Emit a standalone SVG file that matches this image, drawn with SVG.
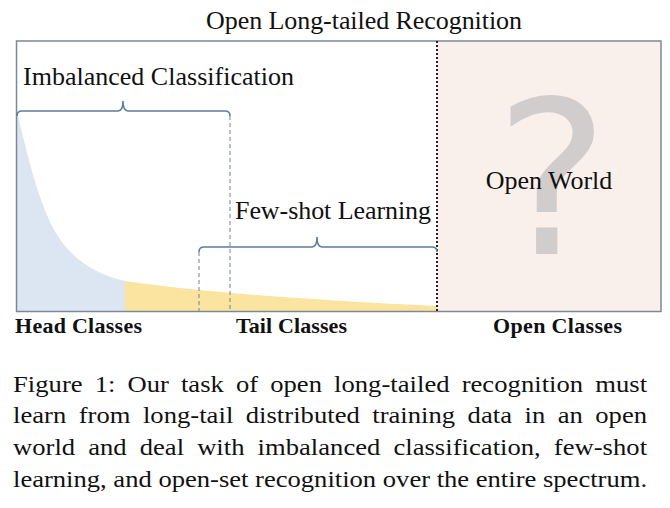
<svg xmlns="http://www.w3.org/2000/svg" width="670" height="508" viewBox="0 0 670 508">
<style>
.t{font-family:"Liberation Serif","Times New Roman",serif;fill:#111}
.lbl{font-size:26px}
.b{font-size:22px;font-weight:bold}
.cap{font-size:23px}
.brace{fill:none;stroke:#5E7D9A;stroke-width:1.6}
.dash{fill:none;stroke:#6F8297;stroke-width:1;stroke-dasharray:4,3}
</style>
<rect x="0" y="0" width="670" height="508" fill="#ffffff"/>
<text class="t lbl" x="364" y="29" text-anchor="middle" textLength="316">Open Long-tailed Recognition</text>
<g id="open-world">
<rect x="437" y="41" width="224" height="270" fill="#FAF0EB"/>
<text x="552" y="254" text-anchor="middle" font-family="DejaVu Sans,sans-serif" font-size="214" fill="#D0CDCC">?</text>
<text class="t lbl" x="549" y="189" text-anchor="middle">Open World</text>
</g>
<g id="distribution">
<path d="M17,112 C24,140 34,185 47,215 C60,248 85,272 125,281 L125,311 L17,311 Z" fill="#DCE6F2"/>
<path d="M125,281 C200,292 320,301 437,306 L437,311 L125,311 Z" fill="#FBE4A0"/>
</g>
<rect id="frame" x="16.5" y="41" width="644.5" height="270.5" fill="none" stroke="#7D8896" stroke-width="1.5"/>
<g id="connectors">
<line x1="437" y1="41" x2="437" y2="311" stroke="#222" stroke-width="2" stroke-dasharray="2,2"/>
<path class="dash" d="M230,116 V311"/>
<path class="dash" d="M199,252 V311"/>
</g>
<g id="imbalanced">
<path class="brace" d="M17,116 Q17,111 22,111 H118 Q123,111 123,101 Q123,111 128,111 H225 Q230,111 230,116"/>
<text class="t lbl" x="23" y="85" textLength="271">Imbalanced Classification</text>
</g>
<g id="fewshot">
<path class="brace" d="M199,252 Q199,247 204,247 H312 Q317,247 317,237 Q317,247 322,247 H432 Q437,247 437,252"/>
<text class="t lbl" x="235" y="219" textLength="196">Few-shot Learning</text>
</g>
<g id="axis-labels">
<text class="t b" x="15" y="333" textLength="127">Head Classes</text>
<text class="t b" x="236" y="333" textLength="111">Tail Classes</text>
<text class="t b" x="493" y="333" textLength="129">Open Classes</text>
</g>
<g id="caption" transform="scale(1.157,1)">
<text class="t cap" x="11.24" y="392" word-spacing="4.6" textLength="548" lengthAdjust="spacing">Figure 1: Our task of open long-tailed recognition must</text>
<text class="t cap" x="11.24" y="423" word-spacing="5" textLength="548" lengthAdjust="spacing">learn from long-tail distributed training data in an open</text>
<text class="t cap" x="11.24" y="455" word-spacing="5.5" textLength="548" lengthAdjust="spacing">world and deal with imbalanced classification, few-shot</text>
<text class="t cap" x="11.24" y="487" textLength="548" lengthAdjust="spacing">learning, and open-set recognition over the entire spectrum.</text>
</g>
</svg>
